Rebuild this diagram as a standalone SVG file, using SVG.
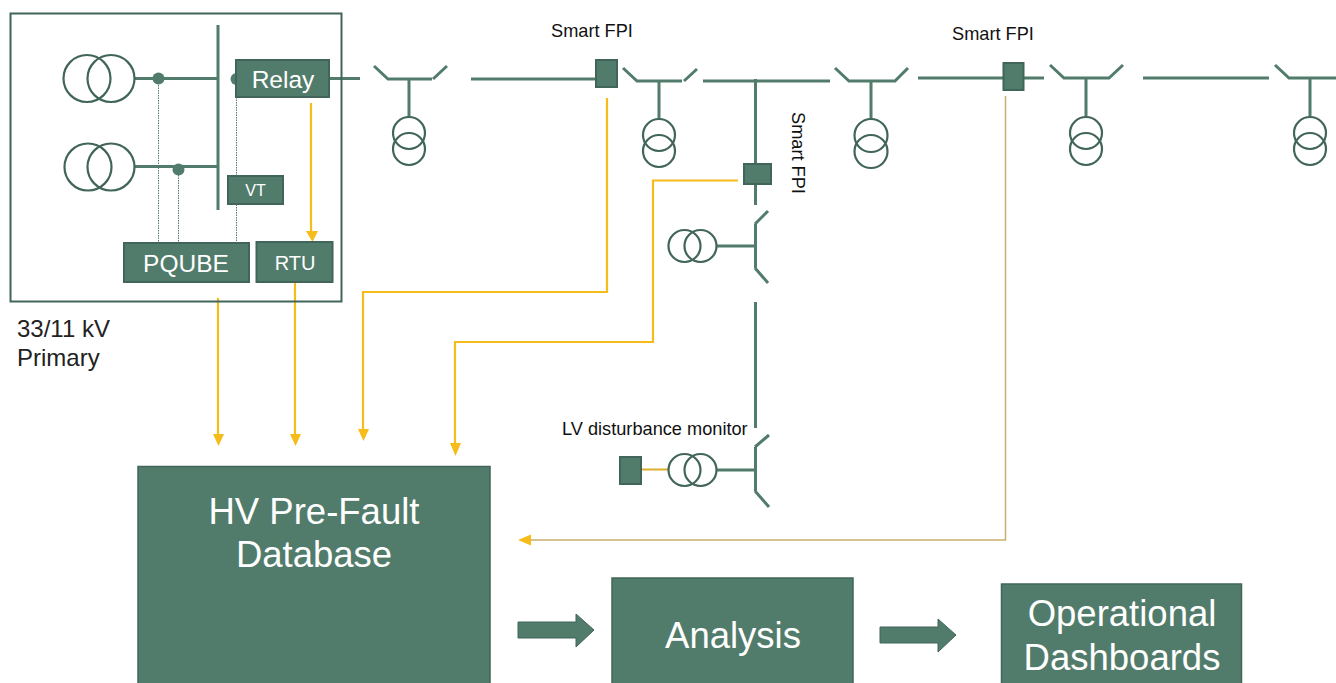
<svg xmlns="http://www.w3.org/2000/svg" width="1336" height="683" viewBox="0 0 1336 683">
<style>
text{font-family:"Liberation Sans",Arial,sans-serif}
.box{fill:#517c6b;stroke:#41655a;stroke-width:2}
.big{fill:#517c6b;stroke:#41655a;stroke-width:1.5}
.w{fill:#fff;text-anchor:middle}
.k{fill:#111;font-size:18.200px}
.ln{fill:none;stroke:#517c6b;stroke-width:3}
.c{fill:none;stroke:#41655a;stroke-width:2.200}
.dot{fill:none;stroke:#517c6b;stroke-width:1;stroke-dasharray:1.5 1}
.y{fill:none;stroke:#f5bc1a;stroke-width:2.200}
.t{fill:none;stroke:#c9ad6e;stroke-width:1.5}
.jn{fill:#517c6b}
.ya{fill:#f5bc1a}
.ar{fill:#517c6b;stroke:#41655a;stroke-width:1}
</style>
<g id="connectors">
<path class="ln" d="M135 78.500H218M218 25V210M135 166.500H218M330 78.500H360"/>
<path class="dot" d="M158.500 80V243M178.500 170V243M236.500 97V243"/>
<path class="ln" d="M374 66L388 79H432M433 79L447 66M409 79V118M471 79H596M623 68L637 81H682M684 81L697 69M659 81V119"/>
<path class="ln" d="M703 81H830M755.500 79V164M755.500 184V205M755.500 224V268M755 224L768 211M755 268L768 283M717 246H755"/>
<path class="ln" d="M755.500 302V428M755.500 447V491M755 447L769 435M755 491L769 507M717 470H755"/>
<path class="ln" d="M835 68L849 81H895L908 68M871 81V119M918 78H1004M1023 78H1044M1050 65L1064 78H1109L1123 65M1086 78V116M1143 78H1269M1275 65L1289 78H1336M1310 78V116"/>
<path class="y" d="M311 103V232M218 298V434M295 283V434M607 98V292H363V430M738 180.500H653V342H455V444"/>
<path class="t" d="M1005.500 96V540H530"/>
<path d="M641 469.500H669" fill="none" stroke="#d9ae2d" stroke-width="2"/>
<path class="ya" d="M306 231H318L312.500 242ZM213 434H224L218.500 446ZM290 434H301L295.500 446ZM358 429H369L363.500 441ZM450 443H461L455.500 456ZM531 534.500V545.500L518 540Z"/>
</g>
<g id="primary">
<rect x="10.500" y="13.500" width="331" height="288" fill="none" stroke="#41655a" stroke-width="2"/>
<text style="font-size:24px;fill:#222" x="17" y="337">33/11 kV</text>
<text style="font-size:24px;fill:#222" x="17" y="366">Primary</text>
</g>
<g id="t1"><circle class="c" cx="87" cy="78.500" r="23.500"/><circle class="c" cx="111" cy="78.500" r="23.500"/></g>
<g id="t2"><circle class="c" cx="88" cy="167" r="23.500"/><circle class="c" cx="111" cy="167" r="23.500"/></g>
<g id="j1"><circle class="jn" cx="158.500" cy="78.500" r="6"/></g>
<g id="j2"><circle class="jn" cx="178.500" cy="169.500" r="6"/></g>
<g id="j3"><circle class="jn" cx="236.500" cy="79" r="6"/></g>
<g id="relay"><rect class="box" x="236" y="60" width="93" height="37"/><text class="w" x="283" y="88" font-size="24.500">Relay</text></g>
<g id="vt"><rect class="box" x="228" y="176" width="55" height="28"/><text class="w" x="255.500" y="196" font-size="16">VT</text></g>
<g id="pqube"><rect class="box" x="124" y="243" width="125" height="39"/><text class="w" x="186" y="272" font-size="24.500">PQUBE</text></g>
<g id="rtu"><rect class="box" x="256.500" y="242" width="76" height="40"/><text class="w" x="295" y="270" font-size="20">RTU</text></g>
<g id="tx1"><circle class="c" cx="409" cy="133" r="16"/><circle class="c" cx="409" cy="149" r="16"/></g>
<g id="tx2"><circle class="c" cx="659" cy="135" r="16"/><circle class="c" cx="659" cy="151" r="16"/></g>
<g id="tx3"><circle class="c" cx="871" cy="135.500" r="16.500"/><circle class="c" cx="871" cy="151.500" r="16.500"/></g>
<g id="tx4"><circle class="c" cx="1086" cy="133" r="16"/><circle class="c" cx="1086" cy="149" r="16"/></g>
<g id="tx5"><circle class="c" cx="1310" cy="133" r="16"/><circle class="c" cx="1310" cy="149" r="16"/></g>
<g id="tx6"><circle class="c" cx="684.500" cy="246" r="16"/><circle class="c" cx="700.500" cy="246" r="16"/></g>
<g id="tx7"><circle class="c" cx="684.500" cy="470" r="16"/><circle class="c" cx="700.500" cy="470" r="16"/></g>
<g id="fpi1"><rect class="box" x="596" y="60" width="21" height="27"/><text class="k" x="551" y="37">Smart FPI</text></g>
<g id="fpi2"><rect class="box" x="744" y="164" width="27" height="20"/><text class="k" transform="translate(791.500 112) rotate(90)">Smart FPI</text></g>
<g id="fpi3"><rect class="box" x="1003.500" y="63" width="20" height="27"/><text class="k" x="952" y="40">Smart FPI</text></g>
<g id="lv"><rect class="box" x="620" y="457" width="21" height="27"/><text class="k" x="562" y="435">LV disturbance monitor</text></g>
<g id="db"><rect class="big" x="138" y="466.500" width="352" height="230"/><text class="w" x="314" y="524" font-size="36.500">HV Pre-Fault</text><text class="w" x="314" y="567" font-size="36.500">Database</text></g>
<g id="arrow1"><path class="ar" d="M518 622H576V614L594 630L576 647V638H518Z"/></g>
<g id="analysis"><rect class="big" x="612" y="578" width="241" height="120"/><text class="w" x="733" y="648" font-size="36.500">Analysis</text></g>
<g id="arrow2"><path class="ar" d="M880 627H938V619L956 635L938 652V643H880Z"/></g>
<g id="dash"><rect class="big" x="1001.500" y="584" width="240" height="110"/><text class="w" x="1122" y="626" font-size="36.500">Operational</text><text class="w" x="1122" y="670" font-size="36.500">Dashboards</text></g>
</svg>
